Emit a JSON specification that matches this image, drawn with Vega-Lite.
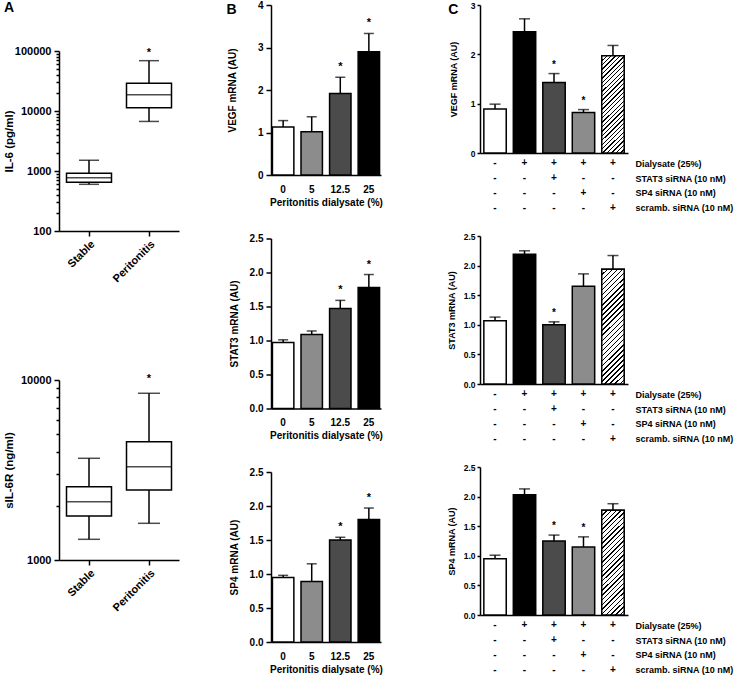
{
  "$schema": "https://vega.github.io/schema/vega-lite/v6.json",
  "padding": {"left": 3, "top": 0, "right": 0, "bottom": 0},
  "background": "#ffffff",
  "config": {
    "view": {"stroke": null},
    "font": "Liberation Sans",
    "axis": {"domainColor": "#000", "domainWidth": 1.5, "tickColor": "#000", "tickWidth": 1.5, "labelColor": "#000", "titleColor": "#000", "labelFont": "Liberation Sans", "titleFont": "Liberation Sans", "labelFontWeight": "bold", "titleFontWeight": "bold", "grid": false, "labelOverlap": false},
    "title": {"font": "Liberation Sans", "fontWeight": "bold", "fontSize": 14, "color": "#000", "anchor": "start", "frame": "bounds", "offset": 0}
  },
  "datasets": {
    "il6": [
      {"group": "Stable", "min": 600, "q1": 650, "median": 770, "q3": 915, "max": 1510, "sig": ""},
      {"group": "Peritonitis", "min": 6700, "q1": 11300, "median": 18600, "q3": 29000, "max": 69000, "sig": "*"}
    ],
    "sil6r": [
      {"group": "Stable", "min": 1303, "q1": 1755, "median": 2109, "q3": 2554, "max": 3673, "sig": ""},
      {"group": "Peritonitis", "min": 1599, "q1": 2448, "median": 3300, "q3": 4540, "max": 8438, "sig": "*"}
    ],
    "bvegf": [
      {"dose": "0", "mean": 1.13, "err": 1.28, "sig": ""},
      {"dose": "5", "mean": 1.02, "err": 1.37, "sig": ""},
      {"dose": "12.5", "mean": 1.92, "err": 2.3, "sig": "*"},
      {"dose": "25", "mean": 2.9, "err": 3.33, "sig": "*"}
    ],
    "bstat3": [
      {"dose": "0", "mean": 0.97, "err": 1.01, "sig": ""},
      {"dose": "5", "mean": 1.09, "err": 1.14, "sig": ""},
      {"dose": "12.5", "mean": 1.47, "err": 1.59, "sig": "*"},
      {"dose": "25", "mean": 1.78, "err": 1.97, "sig": "*"}
    ],
    "bsp4": [
      {"dose": "0", "mean": 0.95, "err": 0.98, "sig": ""},
      {"dose": "5", "mean": 0.89, "err": 1.15, "sig": ""},
      {"dose": "12.5", "mean": 1.5, "err": 1.54, "sig": "*"},
      {"dose": "25", "mean": 1.8, "err": 1.97, "sig": "*"}
    ],
    "cvegf": [
      {"bar": 1, "mean": 0.89, "err": 0.99, "sig": ""},
      {"bar": 2, "mean": 2.46, "err": 2.72, "sig": ""},
      {"bar": 3, "mean": 1.43, "err": 1.61, "sig": "*"},
      {"bar": 4, "mean": 0.82, "err": 0.88, "sig": "*"},
      {"bar": 5, "mean": 1.97, "err": 2.18, "sig": ""}
    ],
    "cstat3": [
      {"bar": 1, "mean": 1.07, "err": 1.13, "sig": ""},
      {"bar": 2, "mean": 2.19, "err": 2.25, "sig": ""},
      {"bar": 3, "mean": 1.0, "err": 1.05, "sig": "*"},
      {"bar": 4, "mean": 1.65, "err": 1.86, "sig": ""},
      {"bar": 5, "mean": 1.94, "err": 2.17, "sig": ""}
    ],
    "csp4": [
      {"bar": 1, "mean": 0.95, "err": 1.01, "sig": ""},
      {"bar": 2, "mean": 2.03, "err": 2.13, "sig": ""},
      {"bar": 3, "mean": 1.25, "err": 1.35, "sig": "*"},
      {"bar": 4, "mean": 1.15, "err": 1.32, "sig": "*"},
      {"bar": 5, "mean": 1.77, "err": 1.88, "sig": ""}
    ],
    "table": [
      {"bar": 1, "cond": "Dialysate (25%)", "sign": "-"},
      {"bar": 1, "cond": "STAT3 siRNA (10 nM)", "sign": "-"},
      {"bar": 1, "cond": "SP4 siRNA (10 nM)", "sign": "-"},
      {"bar": 1, "cond": "scramb. siRNA (10 nM)", "sign": "-"},
      {"bar": 2, "cond": "Dialysate (25%)", "sign": "+"},
      {"bar": 2, "cond": "STAT3 siRNA (10 nM)", "sign": "-"},
      {"bar": 2, "cond": "SP4 siRNA (10 nM)", "sign": "-"},
      {"bar": 2, "cond": "scramb. siRNA (10 nM)", "sign": "-"},
      {"bar": 3, "cond": "Dialysate (25%)", "sign": "+"},
      {"bar": 3, "cond": "STAT3 siRNA (10 nM)", "sign": "+"},
      {"bar": 3, "cond": "SP4 siRNA (10 nM)", "sign": "-"},
      {"bar": 3, "cond": "scramb. siRNA (10 nM)", "sign": "-"},
      {"bar": 4, "cond": "Dialysate (25%)", "sign": "+"},
      {"bar": 4, "cond": "STAT3 siRNA (10 nM)", "sign": "-"},
      {"bar": 4, "cond": "SP4 siRNA (10 nM)", "sign": "+"},
      {"bar": 4, "cond": "scramb. siRNA (10 nM)", "sign": "-"},
      {"bar": 5, "cond": "Dialysate (25%)", "sign": "+"},
      {"bar": 5, "cond": "STAT3 siRNA (10 nM)", "sign": "-"},
      {"bar": 5, "cond": "SP4 siRNA (10 nM)", "sign": "-"},
      {"bar": 5, "cond": "scramb. siRNA (10 nM)", "sign": "+"}
    ]
  },
  "align": "none",
  "resolve": {"scale": {"fill": "independent"}},
  "hconcat": [
    {
      "vconcat": [
        {
          "width": 120, "height": 20,
          "title": {"text": "A", "dx": -55, "dy": 14},
          "data": {"values": [{}]},
          "mark": {"type": "text"},
          "encoding": {"text": {"value": ""}}
        },
        {
          "vconcat": [
            {
              "width": 120, "height": 180,
              "data": {"name": "il6"},
              "encoding": {"x": {"field": "group", "type": "nominal", "sort": ["Stable", "Peritonitis"], "scale": {"paddingInner": 0.25, "paddingOuter": 0.125}, "axis": {"title": null, "labelAngle": -45, "labelFontSize": 11, "tickSize": 5, "labelPadding": 2}}},
              "layer": [
                {"mark": {"type": "rule", "color": "#000", "strokeWidth": 1.5}, "encoding": {"y": {"field": "min", "type": "quantitative", "scale": {"type": "log", "domain": [100, 100000]}, "axis": {"title": "IL-6 (pg/ml)", "values": [100, 1000, 10000, 100000], "format": "d", "labelFontSize": 11, "titleFontSize": 11.5, "tickSize": 5, "labelPadding": 3, "titlePadding": 0}}, "y2": {"field": "max"}}},
                {"mark": {"type": "bar", "fill": "#fff", "stroke": "#000", "strokeWidth": 1.5}, "encoding": {"y": {"field": "q1", "type": "quantitative", "axis": {"orient": "left", "title": null, "values": [200, 300, 400, 500, 600, 700, 800, 900, 2000, 3000, 4000, 5000, 6000, 7000, 8000, 9000, 20000, 30000, 40000, 50000, 60000, 70000, 80000, 90000], "labels": false, "domain": false, "tickSize": 3}}, "y2": {"field": "q3"}}},
                {"mark": {"type": "tick", "color": "#000", "size": 45, "thickness": 1.5}, "encoding": {"y": {"field": "median", "type": "quantitative", "axis": null}}},
                {"mark": {"type": "tick", "color": "#000", "size": 20, "thickness": 1.5}, "encoding": {"y": {"field": "min", "type": "quantitative", "axis": null}}},
                {"mark": {"type": "tick", "color": "#000", "size": 20, "thickness": 1.5}, "encoding": {"y": {"field": "max", "type": "quantitative", "axis": null}}},
                {"mark": {"type": "text", "fontSize": 11, "fontWeight": "bold", "dy": -8, "color": "#000"}, "encoding": {"y": {"field": "max", "type": "quantitative", "axis": null}, "text": {"field": "sig"}}}
              ],
              "resolve": {"axis": {"y": "independent"}}
            },
            {
              "width": 120, "height": 180,
              "data": {"name": "sil6r"},
              "encoding": {"x": {"field": "group", "type": "nominal", "sort": ["Stable", "Peritonitis"], "scale": {"paddingInner": 0.25, "paddingOuter": 0.125}, "axis": {"title": null, "labelAngle": -45, "labelFontSize": 11, "tickSize": 5, "labelPadding": 2}}},
              "layer": [
                {"mark": {"type": "rule", "color": "#000", "strokeWidth": 1.5}, "encoding": {"y": {"field": "min", "type": "quantitative", "scale": {"type": "log", "domain": [1000, 10000]}, "axis": {"title": "sIL-6R (ng/ml)", "values": [1000, 10000], "format": "d", "labelFontSize": 11, "titleFontSize": 11.5, "tickSize": 5, "labelPadding": 3, "titlePadding": 6}}, "y2": {"field": "max"}}},
                {"mark": {"type": "bar", "fill": "#fff", "stroke": "#000", "strokeWidth": 1.5}, "encoding": {"y": {"field": "q1", "type": "quantitative", "axis": {"orient": "left", "title": null, "values": [2000, 3000, 4000, 5000, 6000, 7000, 8000, 9000], "labels": false, "domain": false, "tickSize": 3}}, "y2": {"field": "q3"}}},
                {"mark": {"type": "tick", "color": "#000", "size": 45, "thickness": 1.5}, "encoding": {"y": {"field": "median", "type": "quantitative", "axis": null}}},
                {"mark": {"type": "tick", "color": "#000", "size": 22, "thickness": 1.5}, "encoding": {"y": {"field": "min", "type": "quantitative", "axis": null}}},
                {"mark": {"type": "tick", "color": "#000", "size": 22, "thickness": 1.5}, "encoding": {"y": {"field": "max", "type": "quantitative", "axis": null}}},
                {"mark": {"type": "text", "fontSize": 11, "fontWeight": "bold", "dy": -14, "color": "#000"}, "encoding": {"y": {"field": "max", "type": "quantitative", "axis": null}, "text": {"field": "sig"}}}
              ],
              "resolve": {"axis": {"y": "independent"}}
            }
          ],
          "spacing": 89
        }
      ],
      "spacing": 20
    },
    {
      "align": "none",
      "resolve": {"scale": {"fill": "independent"}},
      "hconcat": [
        {
          "vconcat": [
            {
              "width": 110, "height": 170,
              "title": {"text": "B", "dx": -1, "dy": 21},
              "data": {"name": "bvegf"},
              "encoding": {"x": {"field": "dose", "type": "ordinal", "sort": ["0", "5", "12.5", "25"], "scale": {"paddingInner": 0.25, "paddingOuter": 0.05}, "axis": {"title": "Peritonitis dialysate (%)", "labelAngle": 0, "ticks": false, "tickSize": 0, "labelPadding": 9, "labelFontSize": 10, "titleFontSize": 10, "titlePadding": 3}}},
              "layer": [
                {"mark": {"type": "bar", "stroke": "#000", "strokeWidth": 1.5}, "encoding": {"y": {"field": "mean", "type": "quantitative", "scale": {"domain": [0, 4], "nice": false}, "axis": {"title": "VEGF mRNA (AU)", "tickCount": 4, "labelOverlap": false, "tickSize": 5, "labelPadding": 3, "labelFontSize": 10, "titleFontSize": 10, "titlePadding": 20}}, "fill": {"field": "dose", "type": "ordinal", "sort": ["0", "5", "12.5", "25"], "scale": {"domain": ["0", "5", "12.5", "25"], "range": ["#ffffff", "#8c8c8c", "#4b4b4b", "#000000"]}, "legend": null}}},
                {"mark": {"type": "rule", "color": "#000", "strokeWidth": 1.5}, "encoding": {"y": {"field": "mean", "type": "quantitative"}, "y2": {"field": "err"}}},
                {"mark": {"type": "tick", "color": "#000", "size": 10, "thickness": 1.5}, "encoding": {"y": {"field": "err", "type": "quantitative"}}},
                {"mark": {"type": "text", "fontSize": 11, "fontWeight": "bold", "dy": -10, "color": "#000"}, "encoding": {"y": {"field": "err", "type": "quantitative"}, "text": {"field": "sig"}}}
              ]
            },
            {
              "width": 110, "height": 170,
              "data": {"name": "bstat3"},
              "encoding": {"x": {"field": "dose", "type": "ordinal", "sort": ["0", "5", "12.5", "25"], "scale": {"paddingInner": 0.25, "paddingOuter": 0.05}, "axis": {"title": "Peritonitis dialysate (%)", "labelAngle": 0, "ticks": false, "tickSize": 0, "labelPadding": 9, "labelFontSize": 10, "titleFontSize": 10, "titlePadding": 3}}},
              "layer": [
                {"mark": {"type": "bar", "stroke": "#000", "strokeWidth": 1.5}, "encoding": {"y": {"field": "mean", "type": "quantitative", "scale": {"domain": [0, 2.5], "nice": false}, "axis": {"title": "STAT3 mRNA (AU)", "tickCount": 5, "format": ".1f", "labelOverlap": false, "tickSize": 5, "labelPadding": 3, "labelFontSize": 10, "titleFontSize": 10, "titlePadding": 10}}, "fill": {"field": "dose", "type": "ordinal", "sort": ["0", "5", "12.5", "25"], "scale": {"domain": ["0", "5", "12.5", "25"], "range": ["#ffffff", "#8c8c8c", "#4b4b4b", "#000000"]}, "legend": null}}},
                {"mark": {"type": "rule", "color": "#000", "strokeWidth": 1.5}, "encoding": {"y": {"field": "mean", "type": "quantitative"}, "y2": {"field": "err"}}},
                {"mark": {"type": "tick", "color": "#000", "size": 10, "thickness": 1.5}, "encoding": {"y": {"field": "err", "type": "quantitative"}}},
                {"mark": {"type": "text", "fontSize": 11, "fontWeight": "bold", "dy": -10, "color": "#000"}, "encoding": {"y": {"field": "err", "type": "quantitative"}, "text": {"field": "sig"}}}
              ]
            },
            {
              "width": 110, "height": 170,
              "data": {"name": "bsp4"},
              "encoding": {"x": {"field": "dose", "type": "ordinal", "sort": ["0", "5", "12.5", "25"], "scale": {"paddingInner": 0.25, "paddingOuter": 0.05}, "axis": {"title": "Peritonitis dialysate (%)", "labelAngle": 0, "ticks": false, "tickSize": 0, "labelPadding": 9, "labelFontSize": 10, "titleFontSize": 10, "titlePadding": 3}}},
              "layer": [
                {"mark": {"type": "bar", "stroke": "#000", "strokeWidth": 1.5}, "encoding": {"y": {"field": "mean", "type": "quantitative", "scale": {"domain": [0, 2.5], "nice": false}, "axis": {"title": "SP4 mRNA (AU)", "tickCount": 5, "format": ".1f", "labelOverlap": false, "tickSize": 5, "labelPadding": 3, "labelFontSize": 10, "titleFontSize": 10, "titlePadding": 10}}, "fill": {"field": "dose", "type": "ordinal", "sort": ["0", "5", "12.5", "25"], "scale": {"domain": ["0", "5", "12.5", "25"], "range": ["#ffffff", "#8c8c8c", "#4b4b4b", "#000000"]}, "legend": null}}},
                {"mark": {"type": "rule", "color": "#000", "strokeWidth": 1.5}, "encoding": {"y": {"field": "mean", "type": "quantitative"}, "y2": {"field": "err"}}},
                {"mark": {"type": "tick", "color": "#000", "size": 10, "thickness": 1.5}, "encoding": {"y": {"field": "err", "type": "quantitative"}}},
                {"mark": {"type": "text", "fontSize": 11, "fontWeight": "bold", "dy": -10, "color": "#000"}, "encoding": {"y": {"field": "err", "type": "quantitative"}, "text": {"field": "sig"}}}
              ]
            }
          ],
          "spacing": 26.5
        },
        {
          "vconcat": [
            {
              "vconcat": [
                {
                  "width": 148, "height": 148,
                  "title": {"text": "C", "dx": -1, "dy": 20},
                  "data": {"name": "cvegf"},
                  "encoding": {"x": {"field": "bar", "type": "ordinal", "scale": {"paddingInner": 0.24, "paddingOuter": 0.13}, "axis": {"title": null, "labels": false, "ticks": false, "tickSize": 0}}},
                  "layer": [
                    {"mark": {"type": "bar", "stroke": "#000", "strokeWidth": 1.5}, "encoding": {"y": {"field": "mean", "type": "quantitative", "scale": {"domain": [0, 3], "nice": false}, "axis": {"title": "VEGF mRNA (AU)", "tickCount": 3, "labelOverlap": false, "tickSize": 3, "labelPadding": 2, "labelFontSize": 8.5, "titleFontSize": 9, "titlePadding": 12}}, "fill": {"field": "bar", "type": "ordinal", "scale": {"domain": [1, 2, 3, 4, 5], "range": ["#ffffff", "#000000", "#4b4b4b", "#8c8c8c", "#ffffff"]}, "legend": null}}},
                    {"transform": [{"filter": "datum.bar == 5"}], "mark": {"type": "bar", "stroke": "#000", "strokeWidth": 1.5, "fill": {"gradient": "linear", "x1": 0, "y1": 0, "x2": 0.2679, "y2": 1.168, "stops": [
                      {"offset": 0, "color": "#000"}, {"offset": 0.0111, "color": "#000"}, {"offset": 0.0111, "color": "#fff"}, {"offset": 0.037, "color": "#fff"},
                      {"offset": 0.037, "color": "#000"}, {"offset": 0.0481, "color": "#000"}, {"offset": 0.0481, "color": "#fff"}, {"offset": 0.0741, "color": "#fff"},
                      {"offset": 0.0741, "color": "#000"}, {"offset": 0.0852, "color": "#000"}, {"offset": 0.0852, "color": "#fff"}, {"offset": 0.1111, "color": "#fff"},
                      {"offset": 0.1111, "color": "#000"}, {"offset": 0.1222, "color": "#000"}, {"offset": 0.1222, "color": "#fff"}, {"offset": 0.1481, "color": "#fff"},
                      {"offset": 0.1481, "color": "#000"}, {"offset": 0.1593, "color": "#000"}, {"offset": 0.1593, "color": "#fff"}, {"offset": 0.1852, "color": "#fff"},
                      {"offset": 0.1852, "color": "#000"}, {"offset": 0.1963, "color": "#000"}, {"offset": 0.1963, "color": "#fff"}, {"offset": 0.2222, "color": "#fff"},
                      {"offset": 0.2222, "color": "#000"}, {"offset": 0.2333, "color": "#000"}, {"offset": 0.2333, "color": "#fff"}, {"offset": 0.2593, "color": "#fff"},
                      {"offset": 0.2593, "color": "#000"}, {"offset": 0.2704, "color": "#000"}, {"offset": 0.2704, "color": "#fff"}, {"offset": 0.2963, "color": "#fff"},
                      {"offset": 0.2963, "color": "#000"}, {"offset": 0.3074, "color": "#000"}, {"offset": 0.3074, "color": "#fff"}, {"offset": 0.3333, "color": "#fff"},
                      {"offset": 0.3333, "color": "#000"}, {"offset": 0.3444, "color": "#000"}, {"offset": 0.3444, "color": "#fff"}, {"offset": 0.3704, "color": "#fff"},
                      {"offset": 0.3704, "color": "#000"}, {"offset": 0.3815, "color": "#000"}, {"offset": 0.3815, "color": "#fff"}, {"offset": 0.4074, "color": "#fff"},
                      {"offset": 0.4074, "color": "#000"}, {"offset": 0.4185, "color": "#000"}, {"offset": 0.4185, "color": "#fff"}, {"offset": 0.4444, "color": "#fff"},
                      {"offset": 0.4444, "color": "#000"}, {"offset": 0.4556, "color": "#000"}, {"offset": 0.4556, "color": "#fff"}, {"offset": 0.4815, "color": "#fff"},
                      {"offset": 0.4815, "color": "#000"}, {"offset": 0.4926, "color": "#000"}, {"offset": 0.4926, "color": "#fff"}, {"offset": 0.5185, "color": "#fff"},
                      {"offset": 0.5185, "color": "#000"}, {"offset": 0.5296, "color": "#000"}, {"offset": 0.5296, "color": "#fff"}, {"offset": 0.5556, "color": "#fff"},
                      {"offset": 0.5556, "color": "#000"}, {"offset": 0.5667, "color": "#000"}, {"offset": 0.5667, "color": "#fff"}, {"offset": 0.5926, "color": "#fff"},
                      {"offset": 0.5926, "color": "#000"}, {"offset": 0.6037, "color": "#000"}, {"offset": 0.6037, "color": "#fff"}, {"offset": 0.6296, "color": "#fff"},
                      {"offset": 0.6296, "color": "#000"}, {"offset": 0.6407, "color": "#000"}, {"offset": 0.6407, "color": "#fff"}, {"offset": 0.6667, "color": "#fff"},
                      {"offset": 0.6667, "color": "#000"}, {"offset": 0.6778, "color": "#000"}, {"offset": 0.6778, "color": "#fff"}, {"offset": 0.7037, "color": "#fff"},
                      {"offset": 0.7037, "color": "#000"}, {"offset": 0.7148, "color": "#000"}, {"offset": 0.7148, "color": "#fff"}, {"offset": 0.7407, "color": "#fff"},
                      {"offset": 0.7407, "color": "#000"}, {"offset": 0.7519, "color": "#000"}, {"offset": 0.7519, "color": "#fff"}, {"offset": 0.7778, "color": "#fff"},
                      {"offset": 0.7778, "color": "#000"}, {"offset": 0.7889, "color": "#000"}, {"offset": 0.7889, "color": "#fff"}, {"offset": 0.8148, "color": "#fff"},
                      {"offset": 0.8148, "color": "#000"}, {"offset": 0.8259, "color": "#000"}, {"offset": 0.8259, "color": "#fff"}, {"offset": 0.8519, "color": "#fff"},
                      {"offset": 0.8519, "color": "#000"}, {"offset": 0.863, "color": "#000"}, {"offset": 0.863, "color": "#fff"}, {"offset": 0.8889, "color": "#fff"},
                      {"offset": 0.8889, "color": "#000"}, {"offset": 0.9, "color": "#000"}, {"offset": 0.9, "color": "#fff"}, {"offset": 0.9259, "color": "#fff"},
                      {"offset": 0.9259, "color": "#000"}, {"offset": 0.937, "color": "#000"}, {"offset": 0.937, "color": "#fff"}, {"offset": 0.963, "color": "#fff"},
                      {"offset": 0.963, "color": "#000"}, {"offset": 0.9741, "color": "#000"}, {"offset": 0.9741, "color": "#fff"}, {"offset": 1, "color": "#fff"}
                    ]}}, "encoding": {"y": {"field": "mean", "type": "quantitative"}}},
                    {"mark": {"type": "rule", "color": "#000", "strokeWidth": 1.5}, "encoding": {"y": {"field": "mean", "type": "quantitative"}, "y2": {"field": "err"}}},
                    {"mark": {"type": "tick", "color": "#000", "size": 11, "thickness": 1.5}, "encoding": {"y": {"field": "err", "type": "quantitative"}}},
                    {"mark": {"type": "text", "fontSize": 10, "fontWeight": "bold", "dy": -9, "color": "#000"}, "encoding": {"y": {"field": "err", "type": "quantitative"}, "text": {"field": "sig"}}}
                  ]
                },
                {
                  "width": 148, "height": 51,
                  "data": {"name": "table"},
                  "mark": {"type": "text", "fontSize": 10, "fontWeight": "bold", "color": "#000"},
                  "encoding": {
                    "x": {"field": "bar", "type": "ordinal", "scale": {"type": "point", "padding": 0.51}, "axis": null},
                    "y": {"field": "cond", "type": "nominal", "sort": ["Dialysate (25%)", "STAT3 siRNA (10 nM)", "SP4 siRNA (10 nM)", "scramb. siRNA (10 nM)"], "scale": {"padding": 0.23}, "axis": {"orient": "right", "title": null, "domain": false, "ticks": false, "labelPadding": 7, "labelFontSize": 9}},
                    "text": {"field": "sign"}
                  }
                }
              ],
              "spacing": 0
            },
            {
              "vconcat": [
                {
                  "width": 148, "height": 148,
                  "data": {"name": "cstat3"},
                  "encoding": {"x": {"field": "bar", "type": "ordinal", "scale": {"paddingInner": 0.24, "paddingOuter": 0.13}, "axis": {"title": null, "labels": false, "ticks": false, "tickSize": 0}}},
                  "layer": [
                    {"mark": {"type": "bar", "stroke": "#000", "strokeWidth": 1.5}, "encoding": {"y": {"field": "mean", "type": "quantitative", "scale": {"domain": [0, 2.5], "nice": false}, "axis": {"title": "STAT3 mRNA (AU)", "tickCount": 5, "format": ".1f", "labelOverlap": false, "tickSize": 3, "labelPadding": 2, "labelFontSize": 8.5, "titleFontSize": 9, "titlePadding": 7}}, "fill": {"field": "bar", "type": "ordinal", "scale": {"domain": [1, 2, 3, 4, 5], "range": ["#ffffff", "#000000", "#4b4b4b", "#8c8c8c", "#ffffff"]}, "legend": null}}},
                    {"transform": [{"filter": "datum.bar == 5"}], "mark": {"type": "bar", "stroke": "#000", "strokeWidth": 1.5, "fill": {"gradient": "linear", "x1": 0, "y1": 0, "x2": 0.2235, "y2": 1.151, "stops": [
                      {"offset": 0, "color": "#000"}, {"offset": 0.0111, "color": "#000"}, {"offset": 0.0111, "color": "#fff"}, {"offset": 0.037, "color": "#fff"},
                      {"offset": 0.037, "color": "#000"}, {"offset": 0.0481, "color": "#000"}, {"offset": 0.0481, "color": "#fff"}, {"offset": 0.0741, "color": "#fff"},
                      {"offset": 0.0741, "color": "#000"}, {"offset": 0.0852, "color": "#000"}, {"offset": 0.0852, "color": "#fff"}, {"offset": 0.1111, "color": "#fff"},
                      {"offset": 0.1111, "color": "#000"}, {"offset": 0.1222, "color": "#000"}, {"offset": 0.1222, "color": "#fff"}, {"offset": 0.1481, "color": "#fff"},
                      {"offset": 0.1481, "color": "#000"}, {"offset": 0.1593, "color": "#000"}, {"offset": 0.1593, "color": "#fff"}, {"offset": 0.1852, "color": "#fff"},
                      {"offset": 0.1852, "color": "#000"}, {"offset": 0.1963, "color": "#000"}, {"offset": 0.1963, "color": "#fff"}, {"offset": 0.2222, "color": "#fff"},
                      {"offset": 0.2222, "color": "#000"}, {"offset": 0.2333, "color": "#000"}, {"offset": 0.2333, "color": "#fff"}, {"offset": 0.2593, "color": "#fff"},
                      {"offset": 0.2593, "color": "#000"}, {"offset": 0.2704, "color": "#000"}, {"offset": 0.2704, "color": "#fff"}, {"offset": 0.2963, "color": "#fff"},
                      {"offset": 0.2963, "color": "#000"}, {"offset": 0.3074, "color": "#000"}, {"offset": 0.3074, "color": "#fff"}, {"offset": 0.3333, "color": "#fff"},
                      {"offset": 0.3333, "color": "#000"}, {"offset": 0.3444, "color": "#000"}, {"offset": 0.3444, "color": "#fff"}, {"offset": 0.3704, "color": "#fff"},
                      {"offset": 0.3704, "color": "#000"}, {"offset": 0.3815, "color": "#000"}, {"offset": 0.3815, "color": "#fff"}, {"offset": 0.4074, "color": "#fff"},
                      {"offset": 0.4074, "color": "#000"}, {"offset": 0.4185, "color": "#000"}, {"offset": 0.4185, "color": "#fff"}, {"offset": 0.4444, "color": "#fff"},
                      {"offset": 0.4444, "color": "#000"}, {"offset": 0.4556, "color": "#000"}, {"offset": 0.4556, "color": "#fff"}, {"offset": 0.4815, "color": "#fff"},
                      {"offset": 0.4815, "color": "#000"}, {"offset": 0.4926, "color": "#000"}, {"offset": 0.4926, "color": "#fff"}, {"offset": 0.5185, "color": "#fff"},
                      {"offset": 0.5185, "color": "#000"}, {"offset": 0.5296, "color": "#000"}, {"offset": 0.5296, "color": "#fff"}, {"offset": 0.5556, "color": "#fff"},
                      {"offset": 0.5556, "color": "#000"}, {"offset": 0.5667, "color": "#000"}, {"offset": 0.5667, "color": "#fff"}, {"offset": 0.5926, "color": "#fff"},
                      {"offset": 0.5926, "color": "#000"}, {"offset": 0.6037, "color": "#000"}, {"offset": 0.6037, "color": "#fff"}, {"offset": 0.6296, "color": "#fff"},
                      {"offset": 0.6296, "color": "#000"}, {"offset": 0.6407, "color": "#000"}, {"offset": 0.6407, "color": "#fff"}, {"offset": 0.6667, "color": "#fff"},
                      {"offset": 0.6667, "color": "#000"}, {"offset": 0.6778, "color": "#000"}, {"offset": 0.6778, "color": "#fff"}, {"offset": 0.7037, "color": "#fff"},
                      {"offset": 0.7037, "color": "#000"}, {"offset": 0.7148, "color": "#000"}, {"offset": 0.7148, "color": "#fff"}, {"offset": 0.7407, "color": "#fff"},
                      {"offset": 0.7407, "color": "#000"}, {"offset": 0.7519, "color": "#000"}, {"offset": 0.7519, "color": "#fff"}, {"offset": 0.7778, "color": "#fff"},
                      {"offset": 0.7778, "color": "#000"}, {"offset": 0.7889, "color": "#000"}, {"offset": 0.7889, "color": "#fff"}, {"offset": 0.8148, "color": "#fff"},
                      {"offset": 0.8148, "color": "#000"}, {"offset": 0.8259, "color": "#000"}, {"offset": 0.8259, "color": "#fff"}, {"offset": 0.8519, "color": "#fff"},
                      {"offset": 0.8519, "color": "#000"}, {"offset": 0.863, "color": "#000"}, {"offset": 0.863, "color": "#fff"}, {"offset": 0.8889, "color": "#fff"},
                      {"offset": 0.8889, "color": "#000"}, {"offset": 0.9, "color": "#000"}, {"offset": 0.9, "color": "#fff"}, {"offset": 0.9259, "color": "#fff"},
                      {"offset": 0.9259, "color": "#000"}, {"offset": 0.937, "color": "#000"}, {"offset": 0.937, "color": "#fff"}, {"offset": 0.963, "color": "#fff"},
                      {"offset": 0.963, "color": "#000"}, {"offset": 0.9741, "color": "#000"}, {"offset": 0.9741, "color": "#fff"}, {"offset": 1, "color": "#fff"}
                    ]}}, "encoding": {"y": {"field": "mean", "type": "quantitative"}}},
                    {"mark": {"type": "rule", "color": "#000", "strokeWidth": 1.5}, "encoding": {"y": {"field": "mean", "type": "quantitative"}, "y2": {"field": "err"}}},
                    {"mark": {"type": "tick", "color": "#000", "size": 11, "thickness": 1.5}, "encoding": {"y": {"field": "err", "type": "quantitative"}}},
                    {"mark": {"type": "text", "fontSize": 10, "fontWeight": "bold", "dy": -9, "color": "#000"}, "encoding": {"y": {"field": "err", "type": "quantitative"}, "text": {"field": "sig"}}}
                  ]
                },
                {
                  "width": 148, "height": 51,
                  "data": {"name": "table"},
                  "mark": {"type": "text", "fontSize": 10, "fontWeight": "bold", "color": "#000"},
                  "encoding": {
                    "x": {"field": "bar", "type": "ordinal", "scale": {"type": "point", "padding": 0.51}, "axis": null},
                    "y": {"field": "cond", "type": "nominal", "sort": ["Dialysate (25%)", "STAT3 siRNA (10 nM)", "SP4 siRNA (10 nM)", "scramb. siRNA (10 nM)"], "scale": {"padding": 0.23}, "axis": {"orient": "right", "title": null, "domain": false, "ticks": false, "labelPadding": 7, "labelFontSize": 9}},
                    "text": {"field": "sign"}
                  }
                }
              ],
              "spacing": 0
            },
            {
              "vconcat": [
                {
                  "width": 148, "height": 148,
                  "data": {"name": "csp4"},
                  "encoding": {"x": {"field": "bar", "type": "ordinal", "scale": {"paddingInner": 0.24, "paddingOuter": 0.13}, "axis": {"title": null, "labels": false, "ticks": false, "tickSize": 0}}},
                  "layer": [
                    {"mark": {"type": "bar", "stroke": "#000", "strokeWidth": 1.5}, "encoding": {"y": {"field": "mean", "type": "quantitative", "scale": {"domain": [0, 2.5], "nice": false}, "axis": {"title": "SP4 mRNA (AU)", "tickCount": 5, "format": ".1f", "labelOverlap": false, "tickSize": 3, "labelPadding": 2, "labelFontSize": 8.5, "titleFontSize": 9, "titlePadding": 7}}, "fill": {"field": "bar", "type": "ordinal", "scale": {"domain": [1, 2, 3, 4, 5], "range": ["#ffffff", "#000000", "#4b4b4b", "#8c8c8c", "#ffffff"]}, "legend": null}}},
                    {"transform": [{"filter": "datum.bar == 5"}], "mark": {"type": "bar", "stroke": "#000", "strokeWidth": 1.5, "fill": {"gradient": "linear", "x1": 0, "y1": 0, "x2": 0.2469, "y2": 1.16, "stops": [
                      {"offset": 0, "color": "#000"}, {"offset": 0.0111, "color": "#000"}, {"offset": 0.0111, "color": "#fff"}, {"offset": 0.037, "color": "#fff"},
                      {"offset": 0.037, "color": "#000"}, {"offset": 0.0481, "color": "#000"}, {"offset": 0.0481, "color": "#fff"}, {"offset": 0.0741, "color": "#fff"},
                      {"offset": 0.0741, "color": "#000"}, {"offset": 0.0852, "color": "#000"}, {"offset": 0.0852, "color": "#fff"}, {"offset": 0.1111, "color": "#fff"},
                      {"offset": 0.1111, "color": "#000"}, {"offset": 0.1222, "color": "#000"}, {"offset": 0.1222, "color": "#fff"}, {"offset": 0.1481, "color": "#fff"},
                      {"offset": 0.1481, "color": "#000"}, {"offset": 0.1593, "color": "#000"}, {"offset": 0.1593, "color": "#fff"}, {"offset": 0.1852, "color": "#fff"},
                      {"offset": 0.1852, "color": "#000"}, {"offset": 0.1963, "color": "#000"}, {"offset": 0.1963, "color": "#fff"}, {"offset": 0.2222, "color": "#fff"},
                      {"offset": 0.2222, "color": "#000"}, {"offset": 0.2333, "color": "#000"}, {"offset": 0.2333, "color": "#fff"}, {"offset": 0.2593, "color": "#fff"},
                      {"offset": 0.2593, "color": "#000"}, {"offset": 0.2704, "color": "#000"}, {"offset": 0.2704, "color": "#fff"}, {"offset": 0.2963, "color": "#fff"},
                      {"offset": 0.2963, "color": "#000"}, {"offset": 0.3074, "color": "#000"}, {"offset": 0.3074, "color": "#fff"}, {"offset": 0.3333, "color": "#fff"},
                      {"offset": 0.3333, "color": "#000"}, {"offset": 0.3444, "color": "#000"}, {"offset": 0.3444, "color": "#fff"}, {"offset": 0.3704, "color": "#fff"},
                      {"offset": 0.3704, "color": "#000"}, {"offset": 0.3815, "color": "#000"}, {"offset": 0.3815, "color": "#fff"}, {"offset": 0.4074, "color": "#fff"},
                      {"offset": 0.4074, "color": "#000"}, {"offset": 0.4185, "color": "#000"}, {"offset": 0.4185, "color": "#fff"}, {"offset": 0.4444, "color": "#fff"},
                      {"offset": 0.4444, "color": "#000"}, {"offset": 0.4556, "color": "#000"}, {"offset": 0.4556, "color": "#fff"}, {"offset": 0.4815, "color": "#fff"},
                      {"offset": 0.4815, "color": "#000"}, {"offset": 0.4926, "color": "#000"}, {"offset": 0.4926, "color": "#fff"}, {"offset": 0.5185, "color": "#fff"},
                      {"offset": 0.5185, "color": "#000"}, {"offset": 0.5296, "color": "#000"}, {"offset": 0.5296, "color": "#fff"}, {"offset": 0.5556, "color": "#fff"},
                      {"offset": 0.5556, "color": "#000"}, {"offset": 0.5667, "color": "#000"}, {"offset": 0.5667, "color": "#fff"}, {"offset": 0.5926, "color": "#fff"},
                      {"offset": 0.5926, "color": "#000"}, {"offset": 0.6037, "color": "#000"}, {"offset": 0.6037, "color": "#fff"}, {"offset": 0.6296, "color": "#fff"},
                      {"offset": 0.6296, "color": "#000"}, {"offset": 0.6407, "color": "#000"}, {"offset": 0.6407, "color": "#fff"}, {"offset": 0.6667, "color": "#fff"},
                      {"offset": 0.6667, "color": "#000"}, {"offset": 0.6778, "color": "#000"}, {"offset": 0.6778, "color": "#fff"}, {"offset": 0.7037, "color": "#fff"},
                      {"offset": 0.7037, "color": "#000"}, {"offset": 0.7148, "color": "#000"}, {"offset": 0.7148, "color": "#fff"}, {"offset": 0.7407, "color": "#fff"},
                      {"offset": 0.7407, "color": "#000"}, {"offset": 0.7519, "color": "#000"}, {"offset": 0.7519, "color": "#fff"}, {"offset": 0.7778, "color": "#fff"},
                      {"offset": 0.7778, "color": "#000"}, {"offset": 0.7889, "color": "#000"}, {"offset": 0.7889, "color": "#fff"}, {"offset": 0.8148, "color": "#fff"},
                      {"offset": 0.8148, "color": "#000"}, {"offset": 0.8259, "color": "#000"}, {"offset": 0.8259, "color": "#fff"}, {"offset": 0.8519, "color": "#fff"},
                      {"offset": 0.8519, "color": "#000"}, {"offset": 0.863, "color": "#000"}, {"offset": 0.863, "color": "#fff"}, {"offset": 0.8889, "color": "#fff"},
                      {"offset": 0.8889, "color": "#000"}, {"offset": 0.9, "color": "#000"}, {"offset": 0.9, "color": "#fff"}, {"offset": 0.9259, "color": "#fff"},
                      {"offset": 0.9259, "color": "#000"}, {"offset": 0.937, "color": "#000"}, {"offset": 0.937, "color": "#fff"}, {"offset": 0.963, "color": "#fff"},
                      {"offset": 0.963, "color": "#000"}, {"offset": 0.9741, "color": "#000"}, {"offset": 0.9741, "color": "#fff"}, {"offset": 1, "color": "#fff"}
                    ]}}, "encoding": {"y": {"field": "mean", "type": "quantitative"}}},
                    {"mark": {"type": "rule", "color": "#000", "strokeWidth": 1.5}, "encoding": {"y": {"field": "mean", "type": "quantitative"}, "y2": {"field": "err"}}},
                    {"mark": {"type": "tick", "color": "#000", "size": 11, "thickness": 1.5}, "encoding": {"y": {"field": "err", "type": "quantitative"}}},
                    {"mark": {"type": "text", "fontSize": 10, "fontWeight": "bold", "dy": -9, "color": "#000"}, "encoding": {"y": {"field": "err", "type": "quantitative"}, "text": {"field": "sig"}}}
                  ]
                },
                {
                  "width": 148, "height": 51,
                  "data": {"name": "table"},
                  "mark": {"type": "text", "fontSize": 10, "fontWeight": "bold", "color": "#000"},
                  "encoding": {
                    "x": {"field": "bar", "type": "ordinal", "scale": {"type": "point", "padding": 0.51}, "axis": null},
                    "y": {"field": "cond", "type": "nominal", "sort": ["Dialysate (25%)", "STAT3 siRNA (10 nM)", "SP4 siRNA (10 nM)", "scramb. siRNA (10 nM)"], "scale": {"padding": 0.23}, "axis": {"orient": "right", "title": null, "domain": false, "ticks": false, "labelPadding": 7, "labelFontSize": 9}},
                    "text": {"field": "sign"}
                  }
                }
              ],
              "spacing": 0
            }
          ],
          "spacing": 19
        }
      ],
      "spacing": 64
    }
  ],
  "spacing": 47
}
